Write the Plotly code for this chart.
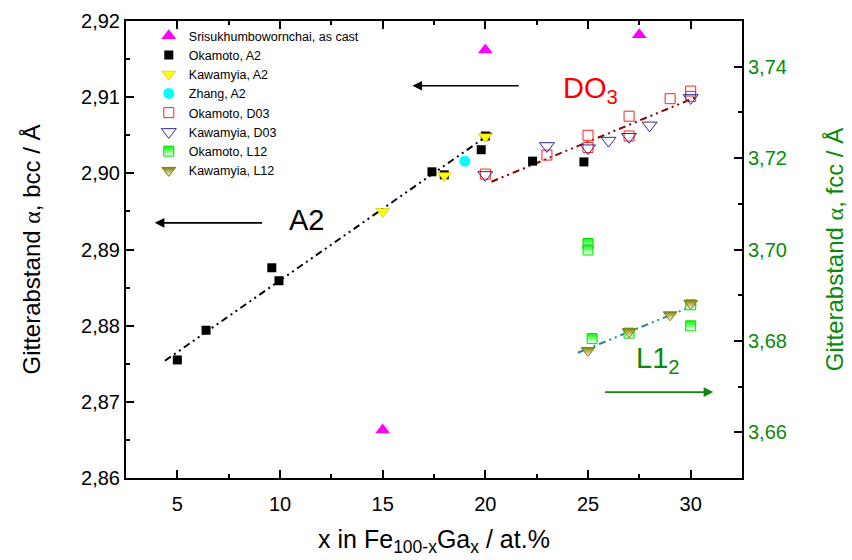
import plotly.graph_objects as go

# ---------------- data ----------------
sris_x = [15, 20, 27.5]
sris_y = [2.8663, 2.9162, 2.9182]

okamoto_a2_x = [5.0, 6.4, 9.6, 9.95, 17.4, 18.0, 19.8, 20.0, 22.3, 24.8]
okamoto_a2_y = [2.8755, 2.8794, 2.8876, 2.8859, 2.9002, 2.8998, 2.9031, 2.9049, 2.9016, 2.9015]

kawa_a2_x = [15, 18, 20]
kawa_a2_y = [2.8950, 2.8997, 2.9048]

zhang_a2_x = [19.0]
zhang_a2_y = [2.9016]

okamoto_d03_x = [20, 23, 25, 25, 27, 27, 29, 30, 30]
okamoto_d03_y = [2.8999, 2.9024, 2.9050, 2.9034, 2.9075, 2.9049, 2.9098, 2.9108, 2.9101]

kawa_d03_x = [20, 23, 25, 26, 27, 28, 30]
kawa_d03_y = [2.8998, 2.9036, 2.9033, 2.9043, 2.9048, 2.9063, 2.9099]

okamoto_l12_x = [25, 25, 25.2, 27, 30, 30]
okamoto_l12_y = [3.7013, 3.6999, 3.6805, 3.6817, 3.6879, 3.6833]

kawa_l12_x = [25, 27, 29, 30]
kawa_l12_y = [3.6779, 3.6820, 3.6857, 3.6882]

a2_fit_x = [4.4, 20.45]
a2_fit_y = [2.8754, 2.9056]
d03_fit_x = [20.3, 30.35]
d03_fit_y = [2.8989, 2.9101]
l12_fit_x = [24.5, 30.4]
l12_fit_y = [3.6774, 3.6882]

x_ticks = [5, 10, 15, 20, 25, 30]
y_left_ticks = [2.86, 2.87, 2.88, 2.89, 2.90, 2.91, 2.92]
y_right_ticks = [3.66, 3.68, 3.70, 3.72, 3.74]

def comma(v, d):
    return f"{v:.{d}f}".replace(".", ",")

FONT = "Arial, Liberation Sans, sans-serif"
GREEN = "#0a8a0a"
DASH = "7px,4px,2px,4px,2px,4px"

fig = go.Figure()

# fit lines (behind markers)
fig.add_trace(go.Scatter(x=a2_fit_x, y=a2_fit_y, mode="lines", showlegend=False,
                         line=dict(color="black", width=2, dash=DASH)))
fig.add_trace(go.Scatter(x=d03_fit_x, y=d03_fit_y, mode="lines", showlegend=False,
                         line=dict(color="#8b0000", width=2, dash=DASH)))
fig.add_trace(go.Scatter(x=l12_fit_x, y=l12_fit_y, mode="lines", showlegend=False, yaxis="y2",
                         line=dict(color="#178a9c", width=2, dash=DASH)))

fig.add_trace(go.Scatter(x=sris_x, y=sris_y, mode="markers", name="Srisukhumbowornchai, as cast",
                         marker=dict(symbol="triangle-up", size=13, color="#ff00ff", line=dict(width=0))))
fig.add_trace(go.Scatter(x=okamoto_a2_x, y=okamoto_a2_y, mode="markers", name="Okamoto, A2",
                         marker=dict(symbol="square", size=9, color="black", line=dict(width=0))))
fig.add_trace(go.Scatter(x=kawa_a2_x, y=kawa_a2_y, mode="markers", name="Kawamyia, A2",
                         marker=dict(symbol="triangle-down", size=12, color="#ffff00",
                                     line=dict(width=0.5, color="#b0b000"))))
fig.add_trace(go.Scatter(x=zhang_a2_x, y=zhang_a2_y, mode="markers", name="Zhang, A2",
                         marker=dict(symbol="circle", size=11, color="#00ffff", line=dict(width=0))))
fig.add_trace(go.Scatter(x=okamoto_d03_x, y=okamoto_d03_y, mode="markers", name="Okamoto, D03",
                         marker=dict(symbol="square-open", size=10, color="#ff2020", line=dict(width=1))))
fig.add_trace(go.Scatter(x=kawa_d03_x, y=kawa_d03_y, mode="markers", name="Kawamyia, D03",
                         marker=dict(symbol="triangle-down-open", size=13, color="#2a2aa0", line=dict(width=1))))
fig.add_trace(go.Scatter(x=okamoto_l12_x, y=okamoto_l12_y, mode="markers", name="Okamoto, L12", yaxis="y2",
                         marker=dict(symbol="square", size=10, color="#00ff00",
                                     gradient=dict(type="vertical", color="white"),
                                     line=dict(width=1, color="#00dd00"))))
fig.add_trace(go.Scatter(x=kawa_l12_x, y=kawa_l12_y, mode="markers", name="Kawamyia, L12", yaxis="y2",
                         marker=dict(symbol="triangle-down", size=12, color="#808000",
                                     gradient=dict(type="vertical", color="white"),
                                     line=dict(width=1, color="#808000"))))

ann = []
# A2 label + arrow
ann.append(dict(x=11.3, y=2.8939, xref="x", yref="y", text="A2", showarrow=False,
                font=dict(size=29, color="black", family=FONT)))
ann.append(dict(x=3.9, y=2.8935, ax=9.2, ay=2.8935, xref="x", yref="y", axref="x", ayref="y",
                text="", showarrow=True, arrowhead=2, arrowsize=1.2, arrowwidth=1.6, arrowcolor="black"))
# DO3 label + arrow
ann.append(dict(x=25.1, y=2.9110, xref="x", yref="y", text="DO<sub>3</sub>", showarrow=False,
                font=dict(size=29, color="#ff0000", family=FONT)))
ann.append(dict(x=16.45, y=2.9115, ax=21.7, ay=2.9115, xref="x", yref="y", axref="x", ayref="y",
                text="", showarrow=True, arrowhead=2, arrowsize=1.2, arrowwidth=1.6, arrowcolor="black"))
# L12 label + arrow
ann.append(dict(x=28.4, y=3.6758, xref="x", yref="y2", text="L1<sub>2</sub>", showarrow=False,
                font=dict(size=29, color=GREEN, family=FONT)))
ann.append(dict(x=31.1, y=3.6688, ax=25.75, ay=3.6688, xref="x", yref="y2", axref="x", ayref="y2",
                text="", showarrow=True, arrowhead=2, arrowsize=1.2, arrowwidth=1.6, arrowcolor=GREEN))

ALPHA = '<span style="font-family:Liberation Serif, Times New Roman, serif">α</span>'

fig.update_layout(
    width=852, height=560,
    margin=dict(l=126, r=110, t=21, b=82, autoexpand=False),
    paper_bgcolor="white", plot_bgcolor="white",
    font=dict(family=FONT, color="black"),
    showlegend=True,
    legend=dict(x=0.037, y=1.0, xanchor="left", yanchor="top", bgcolor="rgba(0,0,0,0)",
                font=dict(size=12.5, family=FONT), itemsizing="trace"),
    annotations=ann,
    xaxis=dict(range=[2.5, 32.5], tickvals=x_ticks, ticktext=[str(v) for v in x_ticks],
               automargin=False,
               ticks="inside", ticklen=8, tickwidth=1.5, tickcolor="black",
               minor=dict(dtick=2.5, tick0=2.5, ticks="inside", ticklen=4, tickwidth=1.5, tickcolor="black"),
               showline=True, linewidth=2, linecolor="black", mirror="ticks",
               showgrid=False, zeroline=False, tickfont=dict(size=20), ticklabelstandoff=7,
               title=dict(text="x in Fe<sub>100-x</sub>Ga<sub>x</sub> / at.%", font=dict(size=25), standoff=16)),
    yaxis=dict(range=[2.86, 2.92], tickvals=y_left_ticks, ticktext=[comma(v, 2) for v in y_left_ticks],
               automargin=False,
               ticks="inside", ticklen=8, tickwidth=1.5, tickcolor="black",
               minor=dict(dtick=0.005, tick0=2.86, ticks="inside", ticklen=4, tickwidth=1.5, tickcolor="black"),
               showline=True, linewidth=2, linecolor="black", mirror=False,
               showgrid=False, zeroline=False, tickfont=dict(size=20),
               title=dict(text=f"Gitterabstand {ALPHA}, bcc / Å", font=dict(size=24), standoff=34)),
    yaxis2=dict(range=[3.65, 3.75], overlaying="y", side="right",
                automargin=False,
                tickvals=y_right_ticks, ticktext=[comma(v, 2) for v in y_right_ticks],
                ticks="inside", ticklen=8, tickwidth=1.5, tickcolor="black",
                minor=dict(dtick=0.01, tick0=3.65, ticks="inside", ticklen=4, tickwidth=1.5, tickcolor="black"),
                showline=True, linewidth=2, linecolor="black",
                showgrid=False, zeroline=False, tickfont=dict(size=20, color=GREEN),
                title=dict(text=f"Gitterabstand {ALPHA}, fcc / Å", font=dict(size=24, color=GREEN), standoff=40)),
)

fig.write_html("out.html")
